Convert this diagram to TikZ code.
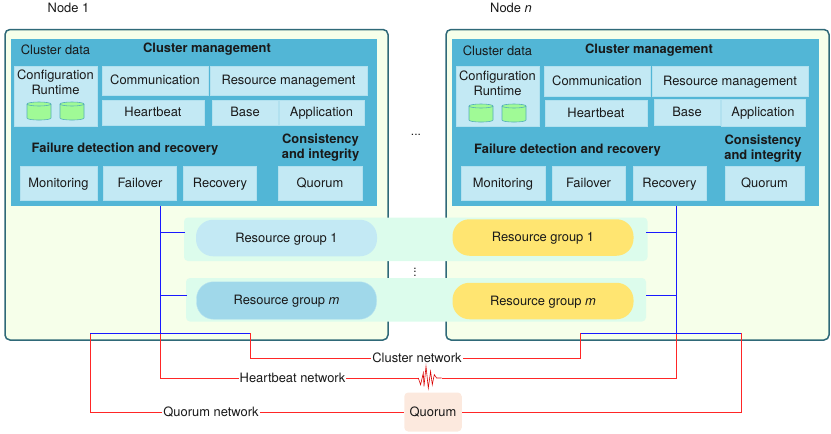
\documentclass[tikz,border=0pt]{standalone}
\usepackage{fontspec}
\setmainfont{TeX Gyre Heros}
\usepackage{tikz}
\usetikzlibrary{shapes, positioning, calc}
\definecolor{nodeedge}{RGB}{47,105,120}
\definecolor{nodefill}{RGB}{246,255,234}
\definecolor{panelblue}{RGB}{82,182,214}
\definecolor{boxblue}{RGB}{195,233,244}
\definecolor{pillblue}{RGB}{160,216,234}
\definecolor{pillyellow}{RGB}{255,229,113}
\definecolor{bandgreen}{RGB}{220,252,236}
\definecolor{quorumfill}{RGB}{252,233,222}
\definecolor{diskgreen}{RGB}{160,250,150}
\definecolor{diskedge}{RGB}{85,175,185}
\tikzset{every node/.style = {font=\fontsize{12.9}{15}\selectfont, text=black!90, inner sep=0pt}}
\tikzset{strut/.style = {text height=11.5pt, text depth=3pt}}
\tikzset{rect/.style args = {#1x#2}{
	rectangle, strut, fill=boxblue, draw=boxblue!85!panelblue, line width=0.5pt,
	minimum width=#1pt, minimum height=#2pt,
	text centered, align=center
	}}
\tikzset{head/.style = {font=\fontsize{12.9}{15}\selectfont\bfseries, align=center}}
\tikzset{nodebox/.style = {draw=nodeedge, fill=nodefill, line width=1.5pt, rounded corners=5pt}}
\tikzset{panel/.style = {fill=panelblue}}
\tikzset{band/.style = {fill=bandgreen, rounded corners=4pt}}
\tikzset{pill/.style args = {#1x#2}{
	rectangle, strut, rounded corners=17pt, minimum width=#1pt, minimum height=#2pt
	}}
\tikzset{disk/.pic = {
	\draw [draw=diskedge, line width=0.6pt, fill=diskgreen] (-12,-7) -- (-12,7)
		.. controls (-12,9.7) and (12,9.7) .. (12,7) -- (12,-7);
	\draw [draw=diskedge, line width=0.6pt, fill=diskgreen] (0,-7) ellipse [x radius=12, y radius=2];
	}}
\tikzset{lan/.style = {blue!90!white, line width=1pt}}
\tikzset{net/.style = {red!85!white, line width=1pt}}
\tikzset{netlabel/.style = {strut, fill=white, inner xsep=1pt, inner ysep=0pt}}
\tikzset{dots/.style = {anchor=base, font=\fontsize{12}{12}\selectfont}}

\begin{document}
\begin{tikzpicture}[x=1pt, y=-1pt]
\useasboundingbox (0,0) rectangle (831,434);

	% Node frames
	\draw [nodebox] (5,29.5) rectangle (388,340);
	\draw [nodebox] (446,29.5) rectangle (829,340);
	\fill [panel] (10.5,39) rectangle (377,206);
	\fill [panel] (452,38.5) rectangle (819,206);
	\node (nodeA) at (68.5,8) {Node 1};
	\node (nodeN) at (511,8) {Node \textit{n}};

	% Resource group bands
	\fill [band] (184,217.5) rectangle (647.5,261);
	\fill [band] (186,278) rectangle (646,321.5);
	\node [dots] (dotsA) at (416,135.5) {...};
	\node [dots, rotate=90] (dotsB) at (415.5,272) {...};

	% Node 1 contents
	\node (dataA) at (55.5,49.5) {Cluster data};
	\node [head] (mgmtA) at (207,49) {Cluster management};
	\node [rect=83.5x60.5] (confA) at (55.5,96) {};
	\node (confTextA) at (55.5,82) [align=center] {Configuration\\Runtime};
	\pic (diskA) at (39,111) {disk};
	\pic (diskB) at (72,111) {disk};
	\node [rect=106x29] (commA) at (155,80.5) {Communication};
	\node [rect=156.5x29] (resA) at (288.5,80.5) {Resource management};
	\node [rect=102x25.5] (beatA) at (153,112.5) {Heartbeat};
	\node [rect=65.5x25.5] (baseA) at (245,112.5) {Base};
	\node [rect=84.5x25.5] (appA) at (321.5,112.5) {Application};
	\node [head] (failA) at (125,149) {Failure detection and recovery};
	\node [head] (consA) at (320.5,148) {Consistency\\and integrity};
	\node [rect=77.5x33.5] (monA) at (58.5,183) {Monitoring};
	\node [rect=73x33.5] (overA) at (140,183) {Failover};
	\node [rect=73x33.5] (recA) at (220,183) {Recovery};
	\node [rect=84x33.5] (quoA) at (320,183) {Quorum};

	% Node n contents
	\node (dataN) at (497.5,50.5) {Cluster data};
	\node [head] (mgmtN) at (649,50) {Cluster management};
	\node [rect=83.5x60.5] (confN) at (497.5,96) {};
	\node (confTextN) at (497.5,83) [align=center] {Configuration\\Runtime};
	\pic (diskC) at (481,113) {disk};
	\pic (diskD) at (514,113) {disk};
	\node [rect=106x30] (commN) at (597,81) {Communication};
	\node [rect=156.5x30] (resN) at (730,81) {Resource management};
	\node [rect=102x26] (beatN) at (596,113) {Heartbeat};
	\node [rect=65.5x25.5] (baseN) at (687,112) {Base};
	\node [rect=84x26.5] (appN) at (763,112.5) {Application};
	\node [head] (failN) at (567.5,150) {Failure detection and recovery};
	\node [head] (consN) at (763,149) {Consistency\\and integrity};
	\node [rect=84x33.5] (monN) at (503,183) {Monitoring};
	\node [rect=73x33.5] (overN) at (588.5,183) {Failover};
	\node [rect=73x33.5] (recN) at (669.5,183) {Recovery};
	\node [rect=79x33.5] (quoN) at (764.5,183) {Quorum};

	% Resource groups
	\node [pill=181x36.5, fill=boxblue] (groupA) at (286.5,238) {Resource group 1};
	\node [pill=180x37.5, fill=pillblue, draw=boxblue!70!pillblue] (groupB) at (286.5,300.5) {Resource group \textit{m}};
	\node [pill=181x36.5, fill=pillyellow] (groupC) at (543,237.5) {Resource group 1};
	\node [pill=181x36.5, fill=pillyellow] (groupD) at (543,301) {Resource group \textit{m}};

	% Attachment points of the wiring
	\coordinate (busA) at (160,206);
	\coordinate (busN) at (676,206);
	\coordinate (tapA) at (160,333);
	\coordinate (tapN) at (676,333);
	\coordinate (bandA) at (185,232.5);
	\coordinate (bandB) at (187,295);
	\coordinate (bandC) at (646,232.5);
	\coordinate (bandD) at (646,295.5);
	\coordinate (clusterA) at (250,333);
	\coordinate (clusterN) at (580.5,333);
	\coordinate (quorumA) at (90,333);
	\coordinate (quorumN) at (741,333);

	% Network labels and the quorum device
	\node [netlabel] (clusterNet) at (417,358.5) {Cluster network};
	\node [netlabel] (beatNet) at (292.5,378) {Heartbeat network};
	\node [netlabel] (quorumNet) at (211,412) {Quorum network};
	\node [strut, fill=quorumfill, rounded corners=4pt, minimum width=57.5pt, minimum height=39pt] (quorumDev) at (433,412) {Quorum};
	\coordinate (pulseL) at (418.3,378);
	\coordinate (pulseR) at (441.7,378);

	% Red part of the wiring
	\draw [net] (clusterA) |- (clusterNet);
	\draw [net] (clusterN) |- (clusterNet);
	\draw [net] (tapA) |- (beatNet);
	\draw [net] (beatNet) -- (pulseL);
	\draw [net] (tapN) |- (pulseR);
	\draw [net] (quorumA) |- (quorumNet);
	\draw [net] (quorumNet) -- (quorumDev);
	\draw [net] (quorumN) |- (quorumDev);

	% Blue part of the wiring
	\draw [lan] (busA) -- (tapA);
	\draw [lan] (busN) -- (tapN);
	\draw [lan] (bandA) -- (bandA -| busA);
	\draw [lan] (bandB) -- (bandB -| busA);
	\draw [lan] (bandC) -- (bandC -| busN);
	\draw [lan] (bandD) -- (bandD -| busN);
	\draw [lan] (quorumA) -- (clusterA);
	\draw [lan] (clusterN) -- (quorumN);

	% Heartbeat pulse
	\draw [red!85!black, line width=0.6pt] (pulseL) -- ++(2.3,6.7) -- ++(2.7,-11.7) -- ++(0.7,13.3) -- ++(2,-20) -- ++(2.3,21.7) -- ++(2.3,-16.7) -- ++(1.7,13.4) -- ++(2,-10) -- ++(2.3,3.3) -- (pulseR);

\end{tikzpicture}
\end{document}
